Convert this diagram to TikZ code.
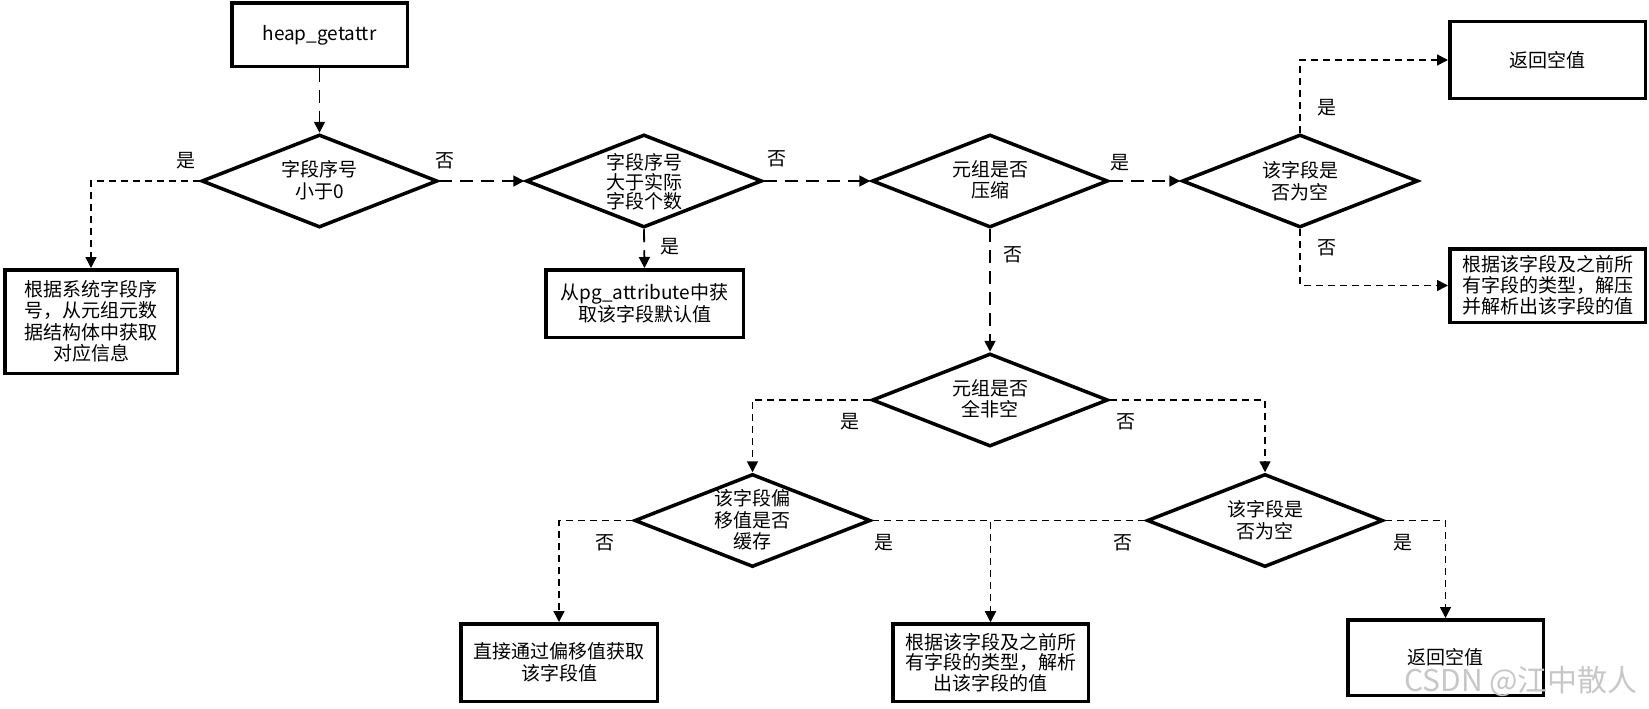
\documentclass[tikz,border=0pt]{standalone}
\usepackage{fontspec}
\setmainfont{Noto Sans CJK SC}
\usetikzlibrary{arrows.meta,shapes.geometric}
\begin{document}
\begin{tikzpicture}[x=1pt,y=-1pt,
  box/.style={draw,line width=3.5pt,fill=white,inner sep=0pt,align=center,
    font=\fontsize{19pt}{21.5pt}\selectfont},
  dia/.style={draw,shape=diamond,line width=3.5pt,inner sep=0pt,
    minimum width=236pt,minimum height=93pt},
  dtext/.style={align=center,inner sep=0pt,font=\fontsize{19pt}{21.5pt}\selectfont},
  lab/.style={inner sep=0pt,font=\fontsize{19pt}{21.5pt}\selectfont},
  tip/.style={-{Triangle[length=11pt,width=11pt]}},
  longdash/.style={tip,line width=1.8pt,dash pattern=on 13pt off 8pt},
  shortdash/.style={tip,line width=1.6pt,dash pattern=on 7pt off 5pt}]
\useasboundingbox (0,0) rectangle (1649,709);
% boxes
\node[box,minimum width=175.5pt,minimum height=63.5pt] (heap) at (319.5,35) {heap\_getattr};
\node[box,minimum width=172.5pt,minimum height=103.5pt] (b1) at (91,321.5) {根据系统字段序\\号，从元组元数\\据结构体中获取\\对应信息};
\node[box,minimum width=197.5pt,minimum height=67.5pt,font=\fontsize{19pt}{20pt}\selectfont] (b2) at (644.5,303.5) {从pg\_attribute中获\\取该字段默认值};
\node[box,minimum width=195.5pt,minimum height=76.5pt] (b3) at (1547.5,60) {返回空值};
\node[box,minimum width=195.5pt,minimum height=73.5pt,font=\fontsize{19pt}{21pt}\selectfont] (b4) at (1547.5,285.5) {根据该字段及之前所\\有字段的类型，解压\\并解析出该字段的值};
\node[box,minimum width=196.5pt,minimum height=77.5pt] (b5) at (559,662.5) {直接通过偏移值获取\\该字段值};
\node[box,minimum width=195.5pt,minimum height=77.5pt,font=\fontsize{19pt}{20.5pt}\selectfont] (b6) at (990.5,662.5) {根据该字段及之前所\\有字段的类型，解析\\出该字段的值};
\node[box,minimum width=195.5pt,minimum height=75.5pt] (b7) at (1445.5,657.5) {返回空值};
% diamonds
\node[dia] (d1) at (319.5,181) {};
\node[dtext] (d1t) at (319.5,180) {字段序号\\小于0};
\node[dia] (d2) at (644,181) {};
\node[dtext,font=\fontsize{19pt}{19.5pt}\selectfont] (d2t) at (644,182) {字段序号\\大于实际\\字段个数};
\node[dia] (d3) at (990,181) {};
\node[dtext] (d3t) at (990,180) {元组是否\\压缩};
\node[dia] (d5) at (1300,181) {};
\node[dtext] (d5t) at (1300,181) {该字段是\\否为空};
\node[dia] (d4) at (990,400) {};
\node[dtext] (d4t) at (990,399) {元组是否\\全非空};
\node[dia] (d6) at (752.5,520.5) {};
\node[dtext] (d6t) at (752.5,520) {该字段偏\\移值是否\\缓存};
\node[dia] (d7) at (1265,520.5) {};
\node[dtext] (d7t) at (1265,520) {该字段是\\否为空};
% connectors
\draw[longdash] (heap.south) -- (d1.north);
\draw[shortdash] (d1.west) -| (b1.north);
\draw[longdash] (d1.east) -- (d2.west);
\draw[longdash] (d2.south) -- (b2.north);
\draw[longdash] (d2.east) -- (d3.west);
\draw[longdash] (d3.east) -- (d5.west);
\draw[longdash] (d3.south) -- (d4.north);
\draw[shortdash] (d5.north) |- (b3.west);
\draw[shortdash] (d5.south) |- (b4.west);
\draw[shortdash] (d4.west) -| (d6.north);
\draw[shortdash] (d4.east) -| (d7.north);
\draw[shortdash] (d6.west) -| (b5.north);
\draw[shortdash] (d6.east) -| (b6.north);
\draw[shortdash] (d7.west) -| (b6.north);
\draw[shortdash] (d7.east) -| (b7.north);
% labels
\node[lab] (l1) at (186,161) {是};
\node[lab] (l2) at (445,161) {否};
\node[lab] (l3) at (777,159) {否};
\node[lab] (l4) at (670,247) {是};
\node[lab] (l5) at (1120,163) {是};
\node[lab] (l6) at (1013,255) {否};
\node[lab] (l7) at (1327,108) {是};
\node[lab] (l8) at (1327,248) {否};
\node[lab] (l9) at (850,422) {是};
\node[lab] (l10) at (1126,422) {否};
\node[lab] (l11) at (605,543) {否};
\node[lab] (l12) at (884,543) {是};
\node[lab] (l13) at (1123,543) {否};
\node[lab] (l14) at (1403,543) {是};
% watermark
\node[inner sep=0pt,text=black!22,font=\fontsize{30pt}{32pt}\selectfont] (wm) at (1521,681) {CSDN @江中散人};
\end{tikzpicture}
\end{document}
